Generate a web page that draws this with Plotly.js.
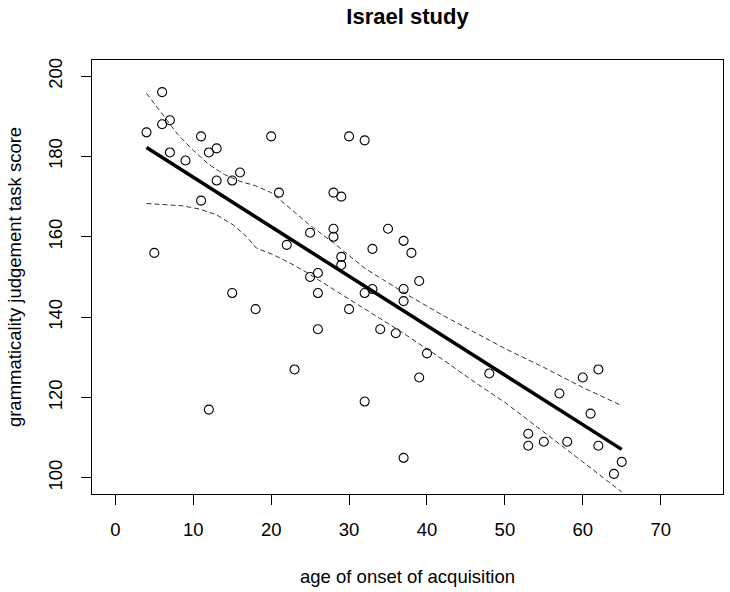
<!DOCTYPE html>
<html>
<head>
<meta charset="utf-8">
<script src="https://cdn.plot.ly/plotly-3.0.1.min.js"></script>
<style>html,body{margin:0;padding:0;background:#fff;}#chart{width:730px;height:592px;}</style>
</head>
<body>
<div id="chart"></div>
<script>
// Observed data: age of onset of acquisition vs grammaticality judgement task score
const ageOnset = [4,5,6,6,7,7,9,11,11,12,12,13,13,15,15,16,18,20,21,22,23,25,25,26,26,26,28,28,28,29,29,29,30,30,32,32,32,33,33,34,35,36,37,37,37,37,38,39,39,40,48,53,53,55,57,58,60,61,62,62,64,65];
const gjtScore = [186,156,196,188,189,181,179,185,169,181,117,182,174,174,146,176,142,185,171,158,127,161,150,151,146,137,171,162,160,170,155,153,185,142,184,146,119,157,147,137,162,136,159,147,144,105,156,149,125,131,126,111,108,109,121,109,125,116,127,108,101,104];

// Fitted regression line
const fitX = [4, 65];
const fitY = [182.2, 107.1];

// Upper confidence band
const upperX = [4,6,8,10,12,14,16,18,20,22,24.9,28,32,34.3,38,42,46,50,55,60,65];
const upperY = [195.7,190.5,185.5,181.5,178,175.5,173.8,172.7,171,167.8,163,158.5,152.2,149.4,145,140.5,136.3,132.2,127.5,122.5,118];

// Lower confidence band
const lowerX = [4,6,8.7,10.8,12.95,15.1,16.8,18.1,20.2,22.4,24.5,30,36.5,42,46,50,55,60,65];
const lowerY = [168.3,168.1,167.7,166.9,165.5,163,160.1,157.2,155.6,153.5,151.2,144.5,136.6,129.5,124,118.8,111.5,104,96.5];

const xTicks = [0,10,20,30,40,50,60,70];
const yTicks = [100,120,140,160,180,200];

const traces = [
  {x: upperX, y: upperY, type:'scatter', mode:'lines', line:{color:'#333', width:1, dash:'5px,3px'}, hoverinfo:'skip'},
  {x: lowerX, y: lowerY, type:'scatter', mode:'lines', line:{color:'#333', width:1, dash:'5px,3px'}, hoverinfo:'skip'},
  {x: fitX, y: fitY, type:'scatter', mode:'lines', line:{color:'#000', width:3.5}},
  {x: ageOnset, y: gjtScore, type:'scatter', mode:'markers',
   marker:{symbol:'circle-open', size:9, color:'#000', line:{width:1.1, color:'#000'}}}
];

const fontFam = '"Liberation Sans", Arial, Helvetica, sans-serif';
const layout = {
  width:730, height:592,
  margin:{l:92, r:7, t:60, b:98, pad:0},
  paper_bgcolor:'#fff', plot_bgcolor:'#fff',
  showlegend:false,
  font:{family:fontFam, size:18.5, color:'#000'},
  title:{text:'<b>Israel study</b>', font:{family:fontFam, size:22, color:'#000'},
         xref:'paper', x:0.5, xanchor:'center', yref:'container', y:1-16/592, yanchor:'middle'},
  xaxis:{range:[-3,78], tickvals:xTicks, ticktext:xTicks.map(String), ticks:'outside', ticklen:10, tickwidth:1, tickcolor:'#000',
         showline:true, mirror:true, linecolor:'#000', linewidth:1, showgrid:false, zeroline:false,
         tickfont:{size:18.5}, ticklabelstandoff:9,
         title:{text:'age of onset of acquisition', font:{size:18.5}, standoff:30}},
  yaxis:{range:[96,204], tickvals:yTicks, ticktext:yTicks.map(String), ticks:'outside', ticklen:10, tickwidth:1, tickcolor:'#000',
         showline:true, mirror:true, linecolor:'#000', linewidth:1, showgrid:false, zeroline:false,
         tickangle:-90, tickfont:{size:18.5}, ticklabelstandoff:12,
         title:{text:'grammaticality judgement task score', font:{size:18.5}, standoff:18}}
};

Plotly.newPlot('chart', traces, layout, {displayModeBar:false, staticPlot:true});
</script>
</body>
</html>
